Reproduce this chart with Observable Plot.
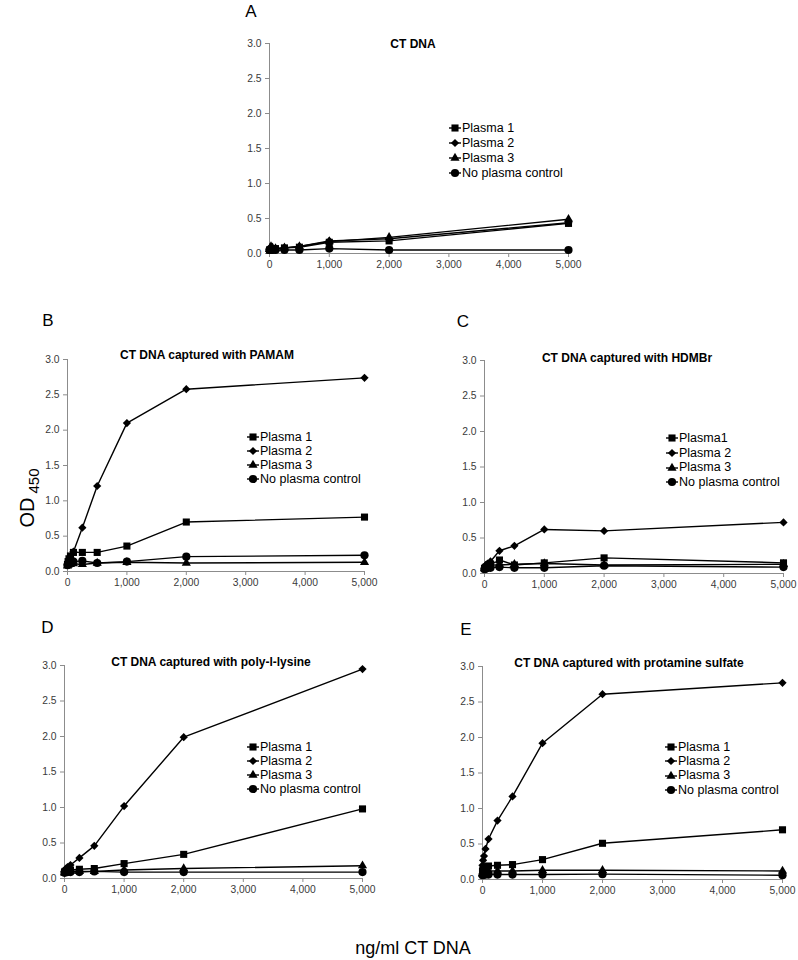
<!DOCTYPE html>
<html><head><meta charset="utf-8">
<script src="https://cdn.jsdelivr.net/npm/d3@7"></script>
<script src="https://cdn.jsdelivr.net/npm/@observablehq/plot@0.6"></script>
<style>
body{margin:0;background:#fff;}
#root{position:relative;width:798px;height:960px;overflow:hidden;font-family:"Liberation Sans",Arial,sans-serif;color:#000;background:#fff;}
.abs{position:absolute;white-space:nowrap;line-height:1;}
.ctr{transform:translate(-50%,-50%);}
</style></head><body><div id="root"></div>
<script>
// ---- data ----
const xValues = [0, 10, 25, 50, 100, 250, 500, 1000, 2000, 5000];
const seriesNames = ["Plasma 1", "Plasma 2", "Plasma 3", "No plasma control"];
const legendNamesC = ["Plasma1", "Plasma 2", "Plasma 3", "No plasma control"];
const xTicks = [0, 1000, 2000, 3000, 4000, 5000];
const yTicks = [0, 0.5, 1, 1.5, 2, 2.5, 3];
const panelLetters = ["A", "B", "C", "D", "E"];
const panelTitles = ["CT DNA", "CT DNA captured with PAMAM", "CT DNA captured with HDMBr",
  "CT DNA captured with poly-l-lysine", "CT DNA captured with protamine sulfate"];
const yLabelMain = "OD";
const yLabelSub = "450";
const xLabel = "ng/ml CT DNA";

const aPlasma1 = [0.05, 0.05, 0.06, 0.06, 0.07, 0.08, 0.09, 0.16, 0.18, 0.43];
const aPlasma2 = [0.06, 0.07, 0.08, 0.07, 0.07, 0.08, 0.10, 0.18, 0.21, 0.44];
const aPlasma3 = [0.06, 0.08, 0.10, 0.08, 0.07, 0.08, 0.10, 0.17, 0.23, 0.49];
const aControl = [0.05, 0.05, 0.05, 0.05, 0.05, 0.05, 0.05, 0.07, 0.05, 0.05];

const bPlasma1 = [0.10, 0.14, 0.18, 0.22, 0.27, 0.27, 0.27, 0.36, 0.70, 0.77];
const bPlasma2 = [0.10, 0.12, 0.15, 0.20, 0.28, 0.62, 1.21, 2.10, 2.58, 2.74];
const bPlasma3 = [0.08, 0.09, 0.10, 0.10, 0.11, 0.10, 0.12, 0.13, 0.12, 0.13];
const bControl = [0.09, 0.10, 0.12, 0.14, 0.14, 0.15, 0.12, 0.14, 0.21, 0.23];

const cPlasma1 = [0.07, 0.08, 0.09, 0.10, 0.12, 0.19, 0.12, 0.15, 0.22, 0.15];
const cPlasma2 = [0.07, 0.09, 0.12, 0.14, 0.17, 0.32, 0.39, 0.62, 0.60, 0.72];
const cPlasma3 = [0.07, 0.08, 0.10, 0.11, 0.12, 0.12, 0.13, 0.14, 0.12, 0.13];
const cControl = [0.06, 0.07, 0.07, 0.08, 0.08, 0.09, 0.08, 0.08, 0.11, 0.09];

const dPlasma1 = [0.09, 0.10, 0.10, 0.11, 0.12, 0.13, 0.14, 0.21, 0.34, 0.98];
const dPlasma2 = [0.10, 0.12, 0.14, 0.16, 0.19, 0.29, 0.46, 1.02, 1.99, 2.95];
const dPlasma3 = [0.08, 0.09, 0.09, 0.10, 0.10, 0.10, 0.10, 0.12, 0.14, 0.18];
const dControl = [0.08, 0.09, 0.09, 0.09, 0.09, 0.09, 0.10, 0.09, 0.09, 0.09];

const ePlasma1 = [0.12, 0.14, 0.16, 0.18, 0.19, 0.20, 0.21, 0.28, 0.51, 0.70];
const ePlasma2 = [0.20, 0.27, 0.33, 0.43, 0.57, 0.83, 1.17, 1.92, 2.61, 2.77];
const ePlasma3 = [0.08, 0.09, 0.10, 0.11, 0.12, 0.12, 0.12, 0.13, 0.13, 0.12];
const eControl = [0.06, 0.07, 0.07, 0.07, 0.07, 0.07, 0.07, 0.07, 0.075, 0.06];

// ---- layout ----
const root = document.getElementById("root");
const symbolNames = ["square", "diamond2", "triangle", "circle"];
const symbolR = [4.0, 3.7, 3.4, 4.1];
const d3Symbols = {square: d3.symbolSquare, diamond2: d3.symbolDiamond2, triangle: d3.symbolTriangle, circle: d3.symbolCircle};

function tidy(seriesArrays) {
  const out = [];
  seriesArrays.forEach((vals, si) => vals.forEach((v, i) => out.push({x: xValues[i], y: v, series: seriesNames[si]})));
  return out;
}

const panels = [
  {data: tidy([aPlasma1, aPlasma2, aPlasma3, aControl]), frame: [269, 568, 43, 253], title: [413, 43.5], letter: [251, 11], legend: [455, 128, 15], names: seriesNames},
  {data: tidy([bPlasma1, bPlasma2, bPlasma3, bControl]), frame: [67, 364, 359, 571], title: [207, 354.5], letter: [48, 320], legend: [253, 437, 14], names: seriesNames},
  {data: tidy([cPlasma1, cPlasma2, cPlasma3, cControl]), frame: [484, 783, 360, 573], title: [627, 358], letter: [463, 321], legend: [672, 438, 14.8], names: legendNamesC},
  {data: tidy([dPlasma1, dPlasma2, dPlasma3, dControl]), frame: [64, 362, 665, 878], title: [211, 662], letter: [47.5, 626.5], legend: [253, 747, 14], names: seriesNames},
  {data: tidy([ePlasma1, ePlasma2, ePlasma3, eControl]), frame: [482, 782, 666, 879], title: [629, 662.5], letter: [466, 628.5], legend: [671, 747, 14.3], names: seriesNames},
];

function addText(txt, cx, cy, style) {
  const el = document.createElement("div");
  el.className = "abs ctr";
  el.textContent = txt;
  el.style.left = cx + "px";
  el.style.top = cy + "px";
  Object.assign(el.style, style || {});
  root.appendChild(el);
  return el;
}

const mL = 40, mR = 14, mT = 12, mB = 28;
panels.forEach((p, pi) => {
  const [fl, fr, ft, fb] = p.frame;
  const w = fr - fl, h = fb - ft;
  const marks = [
    Plot.axisY({ticks: yTicks, tickFormat: d3.format(".1f"), tickSize: 4, tickPadding: 4, stroke: "#8c8c8c", fill: "#3a3a3a", label: null}),
    Plot.axisX({ticks: xTicks, tickFormat: d3.format(","), tickSize: 4, tickPadding: 3, stroke: "#8c8c8c", fill: "#3a3a3a", label: null}),
    Plot.ruleX([0], {stroke: "#8c8c8c"}),
    Plot.ruleY([0], {stroke: "#8c8c8c"}),
    Plot.line(p.data, {x: "x", y: "y", z: "series", stroke: "black", strokeWidth: 1.4}),
  ];
  seriesNames.forEach((s, si) => {
    marks.push(Plot.dot(p.data.filter(d => d.series === s), {x: "x", y: "y", symbol: symbolNames[si], r: symbolR[si], fill: "black"}));
  });
  const svg = Plot.plot({
    width: w + mL + mR, height: h + mT + mB,
    marginLeft: mL, marginRight: mR, marginTop: mT, marginBottom: mB,
    x: {domain: [0, 5000]},
    y: {domain: [0, 3]},
    style: {fontFamily: "'Liberation Sans', Arial, sans-serif", fontSize: "10.3px", background: "transparent", overflow: "visible"},
    marks
  });
  svg.style.position = "absolute";
  svg.style.left = (fl - mL) + "px";
  svg.style.top = (ft - mT) + "px";
  root.appendChild(svg);

  addText(panelTitles[pi], p.title[0], p.title[1], {fontSize: "12px", fontWeight: "bold"});
  addText(panelLetters[pi], p.letter[0], p.letter[1], {fontSize: "17px"});

  // legend
  const [mx, y0, dy] = p.legend;
  p.names.forEach((name, i) => {
    const cy = y0 + i * dy;
    const row = document.createElement("div");
    row.className = "abs";
    row.style.left = (mx - 7) + "px";
    row.style.top = (cy - 7) + "px";
    row.style.height = "14px";
    row.style.display = "flex";
    row.style.alignItems = "center";
    row.style.fontSize = "12.5px";
    const ns = "http://www.w3.org/2000/svg";
    const s = document.createElementNS(ns, "svg");
    s.setAttribute("width", 14); s.setAttribute("height", 14);
    const ln = document.createElementNS(ns, "line");
    ln.setAttribute("x1", 1); ln.setAttribute("x2", 13); ln.setAttribute("y1", 7); ln.setAttribute("y2", 7);
    ln.setAttribute("stroke", "black"); ln.setAttribute("stroke-width", 1.4);
    s.appendChild(ln);
    const path = document.createElementNS(ns, "path");
    const rr = symbolR[i];
    path.setAttribute("d", d3.symbol(d3Symbols[symbolNames[i]], Math.PI * rr * rr)());
    path.setAttribute("transform", "translate(7,7)");
    s.appendChild(path);
    row.appendChild(s);
    const t = document.createElement("span");
    t.textContent = name;
    row.appendChild(t);
    root.appendChild(row);
  });
});

// y label with subscript
const yl = document.createElement("div");
yl.className = "abs";
yl.style.left = "27px";
yl.style.top = "498px";
yl.style.transformOrigin = "0 0";
yl.style.transform = "rotate(-90deg) translate(-50%,-50%)";
yl.style.fontSize = "20px";
const ym = document.createElement("span"); ym.textContent = yLabelMain;
const ys = document.createElement("span"); ys.textContent = yLabelSub;
ys.style.fontSize = "15px"; ys.style.position = "relative"; ys.style.top = "5px"; ys.style.marginLeft = "4px";
yl.appendChild(ym); yl.appendChild(ys);
root.appendChild(yl);

addText(xLabel, 413, 948, {fontSize: "18px"});
</script>
</body></html>
